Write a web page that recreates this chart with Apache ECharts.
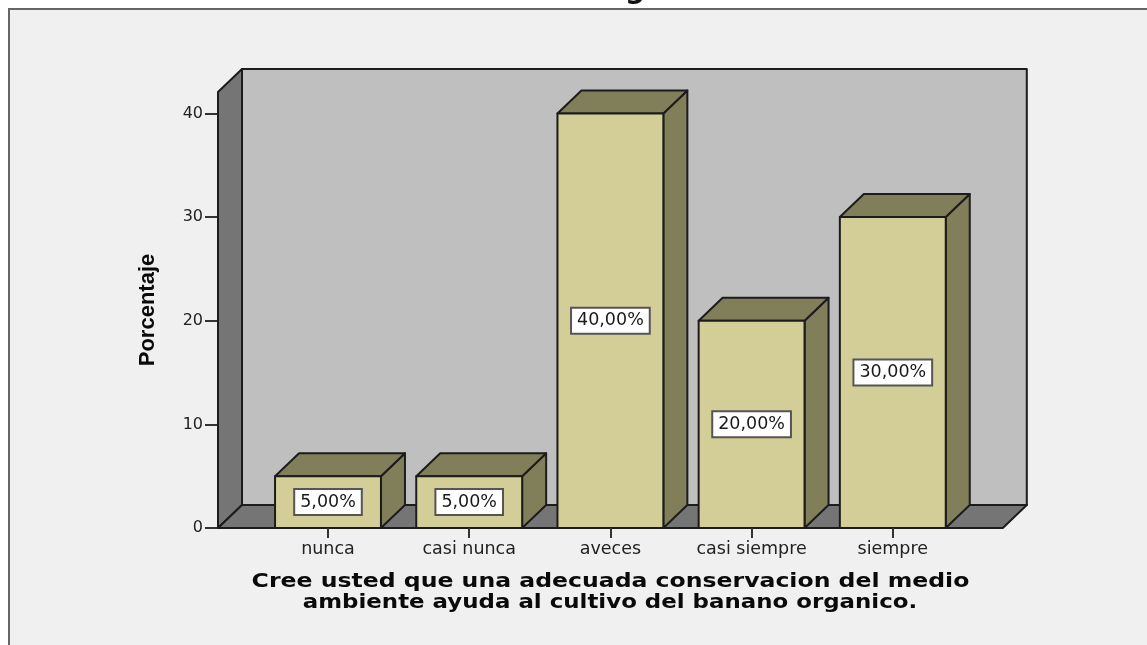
<!DOCTYPE html>
<html>
<head>
<meta charset="utf-8">
<style>html,body{margin:0;padding:0;background:#fff}#c{width:1147px;height:645px}</style>
<script src="https://cdn.jsdelivr.net/npm/echarts@6/dist/echarts.min.js"></script>
</head>
<body>
<div id="c"></div>
<script>
const categories = ['nunca', 'casi nunca', 'aveces', 'casi siempre', 'siempre'];
const values = [5, 5, 40, 20, 30];
const valueLabels = ['5,00%', '5,00%', '40,00%', '20,00%', '30,00%'];
const yTicks = [0, 10, 20, 30, 40];
const yTop = 42.07;
const xTitle1 = 'Cree usted que una adecuada conservacion del medio';
const xTitle2 = 'ambiente ayuda al cultivo del banano organico.';
const yTitle = 'Porcentaje';

const DX = 24, DY = 23, PADL = 39.4, PADR = 39.4;
const EDGE = '#1c1c1c', EW = 2;
const poly = (pts, fill) => ({type: 'polygon', shape: {points: pts}, style: {fill, stroke: EDGE, lineWidth: EW, lineJoin: 'round'}});
const titleStyle = {fontFamily: 'DejaVu Sans', fontWeight: 'bold', fontSize: 20, fill: '#0a0a0a', align: 'center', verticalAlign: 'middle'};

function renderWalls(params, api) {
  const band = api.size([1, 0])[0];
  const b = api.coord([0, 0]), t = api.coord([0, yTop]);
  const e = api.coord([categories.length - 1, 0]);
  const x0 = b[0] - band / 2 - PADL, x1 = e[0] + band / 2 + PADR;
  const yb = b[1], yt = t[1];
  return {type: 'group', children: [
    poly([[x0 + DX, yt - DY], [x1 + DX, yt - DY], [x1 + DX, yb - DY], [x0 + DX, yb - DY]], '#bfbfbf'),
    poly([[x0, yt], [x0 + DX, yt - DY], [x0 + DX, yb - DY], [x0, yb]], '#757575'),
    poly([[x0, yb], [x0 + DX, yb - DY], [x1 + DX, yb - DY], [x1, yb]], '#757575')
  ]};
}

function renderBar(params, api) {
  const i = api.value(0), v = api.value(1);
  const band = api.size([1, 0])[0], w = band * 0.75;
  const top = api.coord([i, v]), bot = api.coord([i, 0]), mid = api.coord([i, v / 2]);
  const l = top[0] - w / 2, r = top[0] + w / 2, yt = top[1], yb = bot[1];
  return {type: 'group', children: [
    poly([[r, yt], [r + DX, yt - DY], [r + DX, yb - DY], [r, yb]], '#817e5a'),
    poly([[l, yt], [l + DX, yt - DY], [r + DX, yt - DY], [r, yt]], '#817e5a'),
    poly([[l, yt], [r, yt], [r, yb], [l, yb]], '#d3ce97'),
    {type: 'text', z2: 10, style: {
      text: valueLabels[params.dataIndex], x: mid[0], y: mid[1], align: 'center', verticalAlign: 'middle',
      fill: '#1a1a1a', fontFamily: 'DejaVu Sans', fontSize: 17.5,
      backgroundColor: '#ffffff', borderColor: '#555555', borderWidth: 2, padding: [3, 5, 3, 5]
    }}
  ]};
}

const chart = echarts.init(document.getElementById('c'), null, {renderer: 'canvas'});
chart.setOption({
  animation: false,
  backgroundColor: '#ffffff',
  graphic: [
    {type: 'rect', z: -10, silent: true, shape: {x: 9, y: 9, width: 1140, height: 640}, style: {fill: '#f0f0f0', stroke: '#666666', lineWidth: 2}},
    {type: 'text', z: -5, silent: true, x: 635, y: -23, style: {text: 'g', fontFamily: 'DejaVu Sans', fontWeight: 'bold', fontSize: 28, fill: '#111', align: 'center'}},
    {type: 'text', z: 5, silent: true, x: 610.5, y: 582, scaleX: 1.178, style: Object.assign({text: xTitle1}, titleStyle)},
    {type: 'text', z: 5, silent: true, x: 610, y: 603, scaleX: 1.145, style: Object.assign({text: xTitle2}, titleStyle)}
  ],
  grid: {left: 257.4, right: 183.6, top: 92, bottom: 117, containLabel: false},
  xAxis: {
    type: 'category', data: categories, position: 'bottom',
    axisLine: {show: false},
    axisTick: {show: true, alignWithLabel: true, length: 10, lineStyle: {color: '#333', width: 2}},
    axisLabel: {interval: 0, hideOverlap: false, fontFamily: 'DejaVu Sans', fontSize: 17.5, color: '#222', margin: 12},
    z: 5
  },
  yAxis: {
    type: 'value', min: 0, max: yTop, offset: PADL,
    axisLine: {show: false}, splitLine: {show: false},
    axisTick: {show: true, length: 13, customValues: yTicks, lineStyle: {color: '#333', width: 2}},
    axisLabel: {customValues: yTicks, fontFamily: 'DejaVu Sans', fontSize: 16, color: '#222', margin: 15, padding: [3, 0, 0, 0]},
    name: yTitle, nameLocation: 'middle', nameGap: 59, nameRotate: 90,
    nameTextStyle: {fontFamily: 'Liberation Sans', fontWeight: 'bold', fontSize: 22, color: '#0a0a0a'}
  },
  series: [
    {type: 'custom', name: 'walls', renderItem: renderWalls, data: [[0, 0]], z: 1, silent: true, clip: false},
    {type: 'custom', name: 'Porcentaje', renderItem: renderBar, data: values.map((v, i) => [i, v]), encode: {x: 0, y: 1}, z: 2, silent: true, clip: false}
  ]
});
</script>
</body>
</html>
